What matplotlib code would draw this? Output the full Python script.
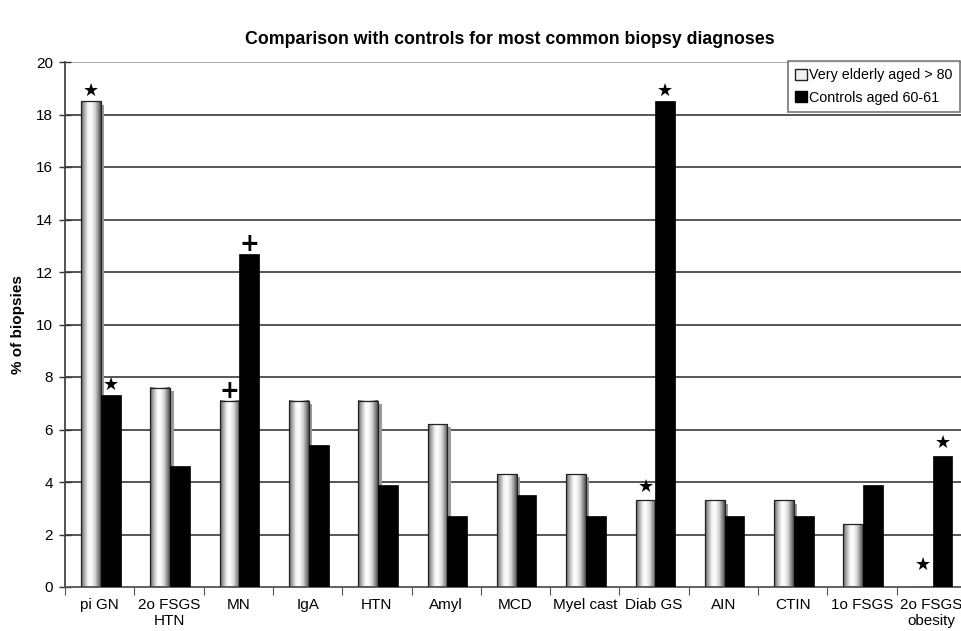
import numpy as np
import matplotlib
matplotlib.use("Agg")
import matplotlib.pyplot as plt
from matplotlib.patches import Rectangle, Patch
from matplotlib.colors import LinearSegmentedColormap

plt.rcParams['font.family'] = ['Liberation Sans', 'DejaVu Sans']

categories = ["pi GN", "2o FSGS\nHTN", "MN", "IgA", "HTN", "Amyl", "MCD",
              "Myel cast", "Diab GS", "AIN", "CTIN", "1o FSGS", "2o FSGS\nobesity"]
elderly = [18.5, 7.6, 7.1, 7.1, 7.1, 6.2, 4.3, 4.3, 3.3, 3.3, 3.3, 2.4, 0.0]
controls = [7.3, 4.6, 12.7, 5.4, 3.9, 2.7, 3.5, 2.7, 18.5, 2.7, 2.7, 3.9, 5.0]
yticks = [0, 2, 4, 6, 8, 10, 12, 14, 16, 18, 20]

# significance marks: (category index, series, symbol, y position)
marks = [
    (0, "elderly", "★", 18.9),
    (0, "controls", "★", 7.7),
    (2, "elderly", "+", 7.45),
    (2, "controls", "+", 13.05),
    (8, "elderly", "★", 3.8),
    (8, "controls", "★", 18.9),
    (12, "elderly", "★", 0.85),
    (12, "controls", "★", 5.5),
]

fig = plt.figure(figsize=(9.62, 6.31), dpi=100)
ax = fig.add_axes([65 / 962, 1 - 587 / 631, 901 / 962, 525 / 631])

x = np.arange(len(categories))
w = 0.285
xe = x - 0.125
xc = x + 0.16

ax.set_xlim(-0.5, len(categories) - 0.5)
ax.set_ylim(0, 20)

# horizontal grid
for yv in yticks[1:]:
    ax.axhline(yv, color="#3a3a3a" if yv < 20 else "#9a9a9a", lw=1.2, zorder=0)

# cylinder shading for the elderly bars
cyl = LinearSegmentedColormap.from_list(
    "cyl", [(0, "#555555"), (0.12, "#9a9a9a"), (0.35, "#f4f4f4"), (0.5, "#ffffff"),
            (0.7, "#d8d8d8"), (0.88, "#8a8a8a"), (1, "#4a4a4a")])
grad = np.linspace(0, 1, 64).reshape(1, -1)

for xi, h in zip(xe, elderly):
    if h <= 0:
        continue
    # drop shadow on the right side
    ax.add_patch(Rectangle((xi - w / 2 + 0.05, 0), w, h - 0.12,
                           facecolor="#9a9a9a", edgecolor="none", zorder=1))
    ax.imshow(grad, cmap=cyl, aspect="auto",
              extent=(xi - w / 2, xi + w / 2, 0, h), zorder=2, interpolation="bilinear")

ax.bar(xe, elderly, width=w, facecolor="none", edgecolor="#222222", lw=0.9, zorder=3)
ax.bar(xc, controls, width=w, color="black", edgecolor="black", lw=0.5, zorder=4)

for i, series, sym, yv in marks:
    xp = xe[i] if series == "elderly" else xc[i]
    if sym == "+":
        ax.text(xp, yv, sym, ha="center", va="center", fontsize=17, fontweight="bold",
                family="DejaVu Sans", zorder=6)
    else:
        ax.text(xp, yv, sym, ha="center", va="center", fontsize=13,
                family="DejaVu Sans", zorder=6)

ax.set_xticks(np.arange(len(categories) + 1) - 0.5, minor=False)
ax.set_xticklabels([])
ax.tick_params(axis="x", which="major", length=6, color="#555555", direction="out")
ax.set_xticks(x, minor=True)
ax.set_xticklabels(categories, minor=True, fontsize=11)
ax.tick_params(axis="x", which="minor", length=0, pad=8)

ax.set_yticks(yticks)
ax.set_yticklabels([str(v) for v in yticks], fontsize=11)
ax.tick_params(axis="y", direction="inout", length=9, width=1, color="#333333", pad=4)

for s in ["top", "right"]:
    ax.spines[s].set_visible(False)
ax.spines["left"].set_color("#444444")
ax.spines["left"].set_linewidth(1.3)
ax.spines["bottom"].set_color("#555555")
ax.spines["bottom"].set_linewidth(1.3)

ax.set_ylabel("% of biopsies", fontsize=11, fontweight="bold", labelpad=8)
fig.text(0.53, 1 - 40 / 631, "Comparison with controls for most common biopsy diagnoses",
         ha="center", va="center", fontsize=12.8, fontweight="bold")

# legend
handles = [Patch(facecolor="#f0f0f0", edgecolor="#222222", lw=1.0),
           Patch(facecolor="black", edgecolor="black")]
leg = fig.legend(handles, ["Very elderly aged > 80", "Controls aged 60-61"],
                 loc="upper left", bbox_to_anchor=(788 / 962, 1 - 61 / 631),
                 fontsize=10.3, frameon=True, fancybox=False, handlelength=0.8,
                 handleheight=0.8, handletextpad=0.2, borderpad=0.5,
                 labelspacing=0.6, borderaxespad=0)
leg.get_frame().set_edgecolor("#555555")
leg.get_frame().set_linewidth(1.2)

fig.savefig("out.png", dpi=100)
